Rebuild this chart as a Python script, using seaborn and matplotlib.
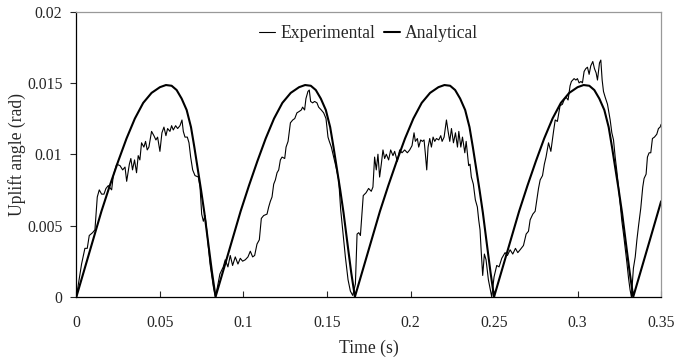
import matplotlib
matplotlib.use("Agg")
import pandas as pd
import matplotlib.pyplot as plt
import seaborn as sns

# Rocking uplift: measured record vs analytical solution

# Experimental record
exp_t = [
    0.0000, 0.0031, 0.0051, 0.0065, 0.0077, 0.0097, 0.0111, 0.0125, 0.0137, 0.0151,
    0.0165, 0.0177, 0.0191, 0.0211, 0.0221, 0.0241, 0.0261, 0.0277, 0.0291, 0.0301,
    0.0317, 0.0326, 0.0336, 0.0348, 0.0360, 0.0370, 0.0380, 0.0390, 0.0404, 0.0414,
    0.0424, 0.0434, 0.0450, 0.0464, 0.0476, 0.0486, 0.0500, 0.0512, 0.0524, 0.0536,
    0.0546, 0.0560, 0.0570, 0.0580, 0.0594, 0.0606, 0.0620, 0.0632, 0.0640, 0.0650,
    0.0664, 0.0674, 0.0684, 0.0696, 0.0710, 0.0730, 0.0740, 0.0750, 0.0760, 0.0770,
    0.0780, 0.0800, 0.0820, 0.0833,
    0.0859, 0.0879, 0.0891, 0.0907, 0.0921, 0.0935, 0.0951, 0.0967, 0.0981, 0.0995,
    0.1011, 0.1027, 0.1041, 0.1055, 0.1067, 0.1081, 0.1095, 0.1107, 0.1121, 0.1141,
    0.1151, 0.1161, 0.1171, 0.1181, 0.1191, 0.1201, 0.1211, 0.1221, 0.1231, 0.1247,
    0.1255, 0.1267, 0.1281, 0.1295, 0.1307, 0.1320, 0.1334, 0.1346, 0.1354, 0.1366,
    0.1374, 0.1386, 0.1394, 0.1402, 0.1414, 0.1426, 0.1440, 0.1450, 0.1466, 0.1480,
    0.1494, 0.1506, 0.1514, 0.1526, 0.1540, 0.1554, 0.1570, 0.1582, 0.1594, 0.1610,
    0.1626, 0.1640, 0.1654, 0.1670, 0.1680, 0.1690, 0.1700, 0.1717, 0.1734, 0.1749,
    0.1765, 0.1775,
    0.1785, 0.1795, 0.1805, 0.1815, 0.1825, 0.1835, 0.1845, 0.1855, 0.1869, 0.1881,
    0.1895, 0.1905, 0.1921, 0.1935, 0.1949, 0.1965, 0.1981, 0.1995, 0.2009, 0.2021,
    0.2029, 0.2041, 0.2049, 0.2061, 0.2071, 0.2081, 0.2089, 0.2097, 0.2105, 0.2115,
    0.2125, 0.2135, 0.2145, 0.2155, 0.2169, 0.2181, 0.2189, 0.2201, 0.2215, 0.2225,
    0.2235, 0.2245, 0.2257, 0.2269, 0.2281, 0.2289, 0.2301, 0.2311, 0.2325, 0.2333,
    0.2341, 0.2348, 0.2356, 0.2364, 0.2376, 0.2388, 0.2400, 0.2408, 0.2416, 0.2424,
    0.2432, 0.2442, 0.2452, 0.2466, 0.2486,
    0.2500, 0.2516, 0.2530, 0.2546, 0.2566, 0.2580, 0.2596, 0.2612, 0.2628, 0.2642,
    0.2656, 0.2676, 0.2692, 0.2706, 0.2716, 0.2732, 0.2746, 0.2756, 0.2766, 0.2776,
    0.2790, 0.2801, 0.2811, 0.2826, 0.2840, 0.2856, 0.2866, 0.2879, 0.2895, 0.2909,
    0.2919, 0.2931, 0.2943, 0.2955, 0.2963, 0.2979, 0.2990, 0.2999, 0.3009, 0.3020,
    0.3029, 0.3039, 0.3049, 0.3059, 0.3069, 0.3079, 0.3091, 0.3101, 0.3111, 0.3119,
    0.3131, 0.3139, 0.3147, 0.3155, 0.3165, 0.3179, 0.3195, 0.3205, 0.3215, 0.3225,
    0.3235, 0.3245, 0.3255, 0.3265, 0.3275, 0.3285, 0.3295, 0.3305, 0.3314, 0.3322,
    0.3334, 0.3345, 0.3355, 0.3365, 0.3378, 0.3390, 0.3398, 0.3410, 0.3418, 0.3428,
    0.3438, 0.3448, 0.3460, 0.3474, 0.3484, 0.3494, 0.3500,
]
exp_y = [
    0.0000, 0.0023, 0.0034, 0.0034, 0.0043, 0.0045, 0.0047, 0.0070, 0.0075, 0.0072,
    0.0072, 0.0076, 0.0078, 0.0075, 0.0085, 0.0093, 0.0092, 0.0089, 0.0091, 0.0081,
    0.0093, 0.0097, 0.0089, 0.0096, 0.0087, 0.0099, 0.0096, 0.0108, 0.0105, 0.0109,
    0.0103, 0.0105, 0.0116, 0.0113, 0.0110, 0.0112, 0.0102, 0.0115, 0.0119, 0.0113,
    0.0118, 0.0116, 0.0120, 0.0117, 0.0120, 0.0118, 0.0120, 0.0124, 0.0116, 0.0112,
    0.0112, 0.0108, 0.0098, 0.0089, 0.0085, 0.0084, 0.0077, 0.0058, 0.0053, 0.0057,
    0.0047, 0.0023, 0.0007, 0.0000,
    0.0016, 0.0021, 0.0026, 0.0021, 0.0029, 0.0022, 0.0028, 0.0023, 0.0027, 0.0025,
    0.0026, 0.0028, 0.0032, 0.0028, 0.0029, 0.0037, 0.0040, 0.0055, 0.0057, 0.0058,
    0.0063, 0.0067, 0.0070, 0.0079, 0.0082, 0.0087, 0.0089, 0.0096, 0.0098, 0.0097,
    0.0105, 0.0109, 0.0122, 0.0124, 0.0125, 0.0129, 0.0130, 0.0131, 0.0133, 0.0131,
    0.0139, 0.0144, 0.0145, 0.0137, 0.0136, 0.0137, 0.0136, 0.0133, 0.0131, 0.0129,
    0.0125, 0.0112, 0.0109, 0.0105, 0.0098, 0.0091, 0.0082, 0.0061, 0.0047, 0.0028,
    0.0012, 0.0004, 0.0001, 0.0009, 0.0044, 0.0045, 0.0043, 0.0071, 0.0073, 0.0076,
    0.0074, 0.0077,
    0.0098, 0.0089, 0.0100, 0.0084, 0.0093, 0.0103, 0.0097, 0.0100, 0.0096, 0.0103,
    0.0099, 0.0102, 0.0095, 0.0103, 0.0101, 0.0103, 0.0101, 0.0103, 0.0106, 0.0115,
    0.0109, 0.0111, 0.0105, 0.0110, 0.0109, 0.0110, 0.0100, 0.0089, 0.0105, 0.0111,
    0.0105, 0.0112, 0.0109, 0.0111, 0.0110, 0.0113, 0.0109, 0.0112, 0.0124, 0.0116,
    0.0109, 0.0118, 0.0108, 0.0115, 0.0105, 0.0116, 0.0105, 0.0112, 0.0101, 0.0109,
    0.0100, 0.0092, 0.0093, 0.0084, 0.0079, 0.0068, 0.0063, 0.0054, 0.0047, 0.0030,
    0.0015, 0.0030, 0.0026, 0.0012, 0.0000,
    0.0014, 0.0022, 0.0021, 0.0027, 0.0031, 0.0029, 0.0033, 0.0030, 0.0034, 0.0031,
    0.0033, 0.0036, 0.0044, 0.0046, 0.0054, 0.0058, 0.0060, 0.0068, 0.0076, 0.0082,
    0.0085, 0.0093, 0.0098, 0.0108, 0.0102, 0.0116, 0.0124, 0.0123, 0.0134, 0.0135,
    0.0138, 0.0140, 0.0138, 0.0148, 0.0151, 0.0153, 0.0152, 0.0153, 0.0150, 0.0151,
    0.0150, 0.0158, 0.0160, 0.0161, 0.0156, 0.0162, 0.0165, 0.0160, 0.0157, 0.0152,
    0.0164, 0.0166, 0.0152, 0.0144, 0.0140, 0.0135, 0.0124, 0.0115, 0.0110, 0.0098,
    0.0088, 0.0077, 0.0065, 0.0053, 0.0044, 0.0034, 0.0024, 0.0013, 0.0005, 0.0000,
    0.0020, 0.0028, 0.0040, 0.0050, 0.0062, 0.0077, 0.0083, 0.0086, 0.0098, 0.0101,
    0.0101, 0.0111, 0.0112, 0.0114, 0.0118, 0.0119, 0.0121,
]

# Analytical solution (one arc per impact cycle)
ana_t = [
    0.0000, 0.0050, 0.0100, 0.0150, 0.0200, 0.0250, 0.0300, 0.0350, 0.0400, 0.0450,
    0.0500, 0.0536, 0.0570, 0.0600, 0.0630, 0.0660, 0.0686, 0.0706, 0.0726, 0.0746,
    0.0766, 0.0791, 0.0812,
    0.0833, 0.0883, 0.0933, 0.0983, 0.1033, 0.1083, 0.1133, 0.1183, 0.1233, 0.1283,
    0.1333, 0.1369, 0.1403, 0.1433, 0.1463, 0.1493, 0.1519, 0.1539, 0.1559, 0.1579,
    0.1599, 0.1624, 0.1645,
    0.1667, 0.1717, 0.1767, 0.1817, 0.1867, 0.1917, 0.1967, 0.2017, 0.2067, 0.2117,
    0.2167, 0.2203, 0.2237, 0.2267, 0.2297, 0.2327, 0.2353, 0.2373, 0.2393, 0.2413,
    0.2433, 0.2458, 0.2479,
    0.2500, 0.2550, 0.2600, 0.2650, 0.2700, 0.2750, 0.2800, 0.2850, 0.2900, 0.2950,
    0.3000, 0.3036, 0.3070, 0.3100, 0.3130, 0.3160, 0.3186, 0.3206, 0.3226, 0.3246,
    0.3266, 0.3291, 0.3312,
    0.3333, 0.3383, 0.3433, 0.3500,
]
ana_y = [
    0.0000, 0.0020, 0.0040, 0.0060, 0.0078, 0.0095, 0.0111, 0.0125, 0.0136, 0.0143,
    0.0147, 0.01485, 0.0148, 0.0145, 0.0139, 0.0131, 0.0119, 0.0105, 0.0090, 0.0075,
    0.0059, 0.0036, 0.0017,
    0.0000, 0.0020, 0.0040, 0.0060, 0.0078, 0.0095, 0.0111, 0.0125, 0.0136, 0.0143,
    0.0147, 0.01485, 0.0148, 0.0145, 0.0139, 0.0131, 0.0119, 0.0105, 0.0090, 0.0075,
    0.0059, 0.0036, 0.0017,
    0.0000, 0.0020, 0.0040, 0.0060, 0.0078, 0.0095, 0.0111, 0.0125, 0.0136, 0.0143,
    0.0147, 0.01485, 0.0148, 0.0145, 0.0139, 0.0131, 0.0119, 0.0105, 0.0090, 0.0075,
    0.0059, 0.0036, 0.0017,
    0.0000, 0.0020, 0.0040, 0.0060, 0.0078, 0.0095, 0.0111, 0.0125, 0.0136, 0.0143,
    0.0147, 0.01485, 0.0148, 0.0145, 0.0139, 0.0131, 0.0119, 0.0105, 0.0090, 0.0075,
    0.0059, 0.0036, 0.0017,
    0.0000, 0.0020, 0.0040, 0.0067,
]

x_ticks = [0, 0.05, 0.1, 0.15, 0.2, 0.25, 0.3, 0.35]
x_labels = ['0', '0.05', '0.1', '0.15', '0.2', '0.25', '0.3', '0.35']
y_ticks = [0, 0.005, 0.01, 0.015, 0.02]
y_labels = ['0', '0.005', '0.01', '0.015', '0.02']

exp_df = pd.DataFrame({'t': exp_t, 'theta': exp_y})
ana_df = pd.DataFrame({'t': ana_t, 'theta': ana_y})

sns.set_style("ticks")
plt.rcParams['font.family'] = ['Liberation Serif', 'DejaVu Serif']
plt.rcParams['font.size'] = 12.5

fig, ax = plt.subplots(figsize=(6.76, 3.62), dpi=100)
fig.subplots_adjust(left=0.113, right=0.978, bottom=0.180, top=0.968)

sns.lineplot(data=exp_df, x='t', y='theta', ax=ax, color='black',
             linewidth=0.8, estimator=None, sort=False, label='Experimental')
sns.lineplot(data=ana_df, x='t', y='theta', ax=ax, color='black',
             linewidth=1.5, estimator=None, sort=False, label='Analytical')

ax.set_xlim(0, 0.35)
ax.set_ylim(0, 0.02)
ax.set_xticks(x_ticks)
ax.set_xticklabels(x_labels)
ax.set_yticks(y_ticks)
ax.set_yticklabels(y_labels)
ax.tick_params(axis='x', direction='in', length=4, width=0.8, pad=13, labelsize=11.3)
ax.tick_params(axis='y', direction='out', length=4, width=0.8, pad=6, labelsize=11.3)

ax.set_xlabel('Time (s)', fontsize=12.7, labelpad=6.5)
ax.set_ylabel('Uplift angle (rad)', fontsize=12.7, labelpad=1)

for side in ['left', 'bottom']:
    ax.spines[side].set_color('black')
    ax.spines[side].set_linewidth(0.9)
for side in ['top', 'right']:
    ax.spines[side].set_color('#999999')
    ax.spines[side].set_linewidth(0.9)

ax.legend(loc='upper center', ncol=2, frameon=False, fontsize=12.7,
          handlelength=0.9, handletextpad=0.3, columnspacing=0.5,
          borderaxespad=0.35)

plt.savefig('out.png', dpi=100)
